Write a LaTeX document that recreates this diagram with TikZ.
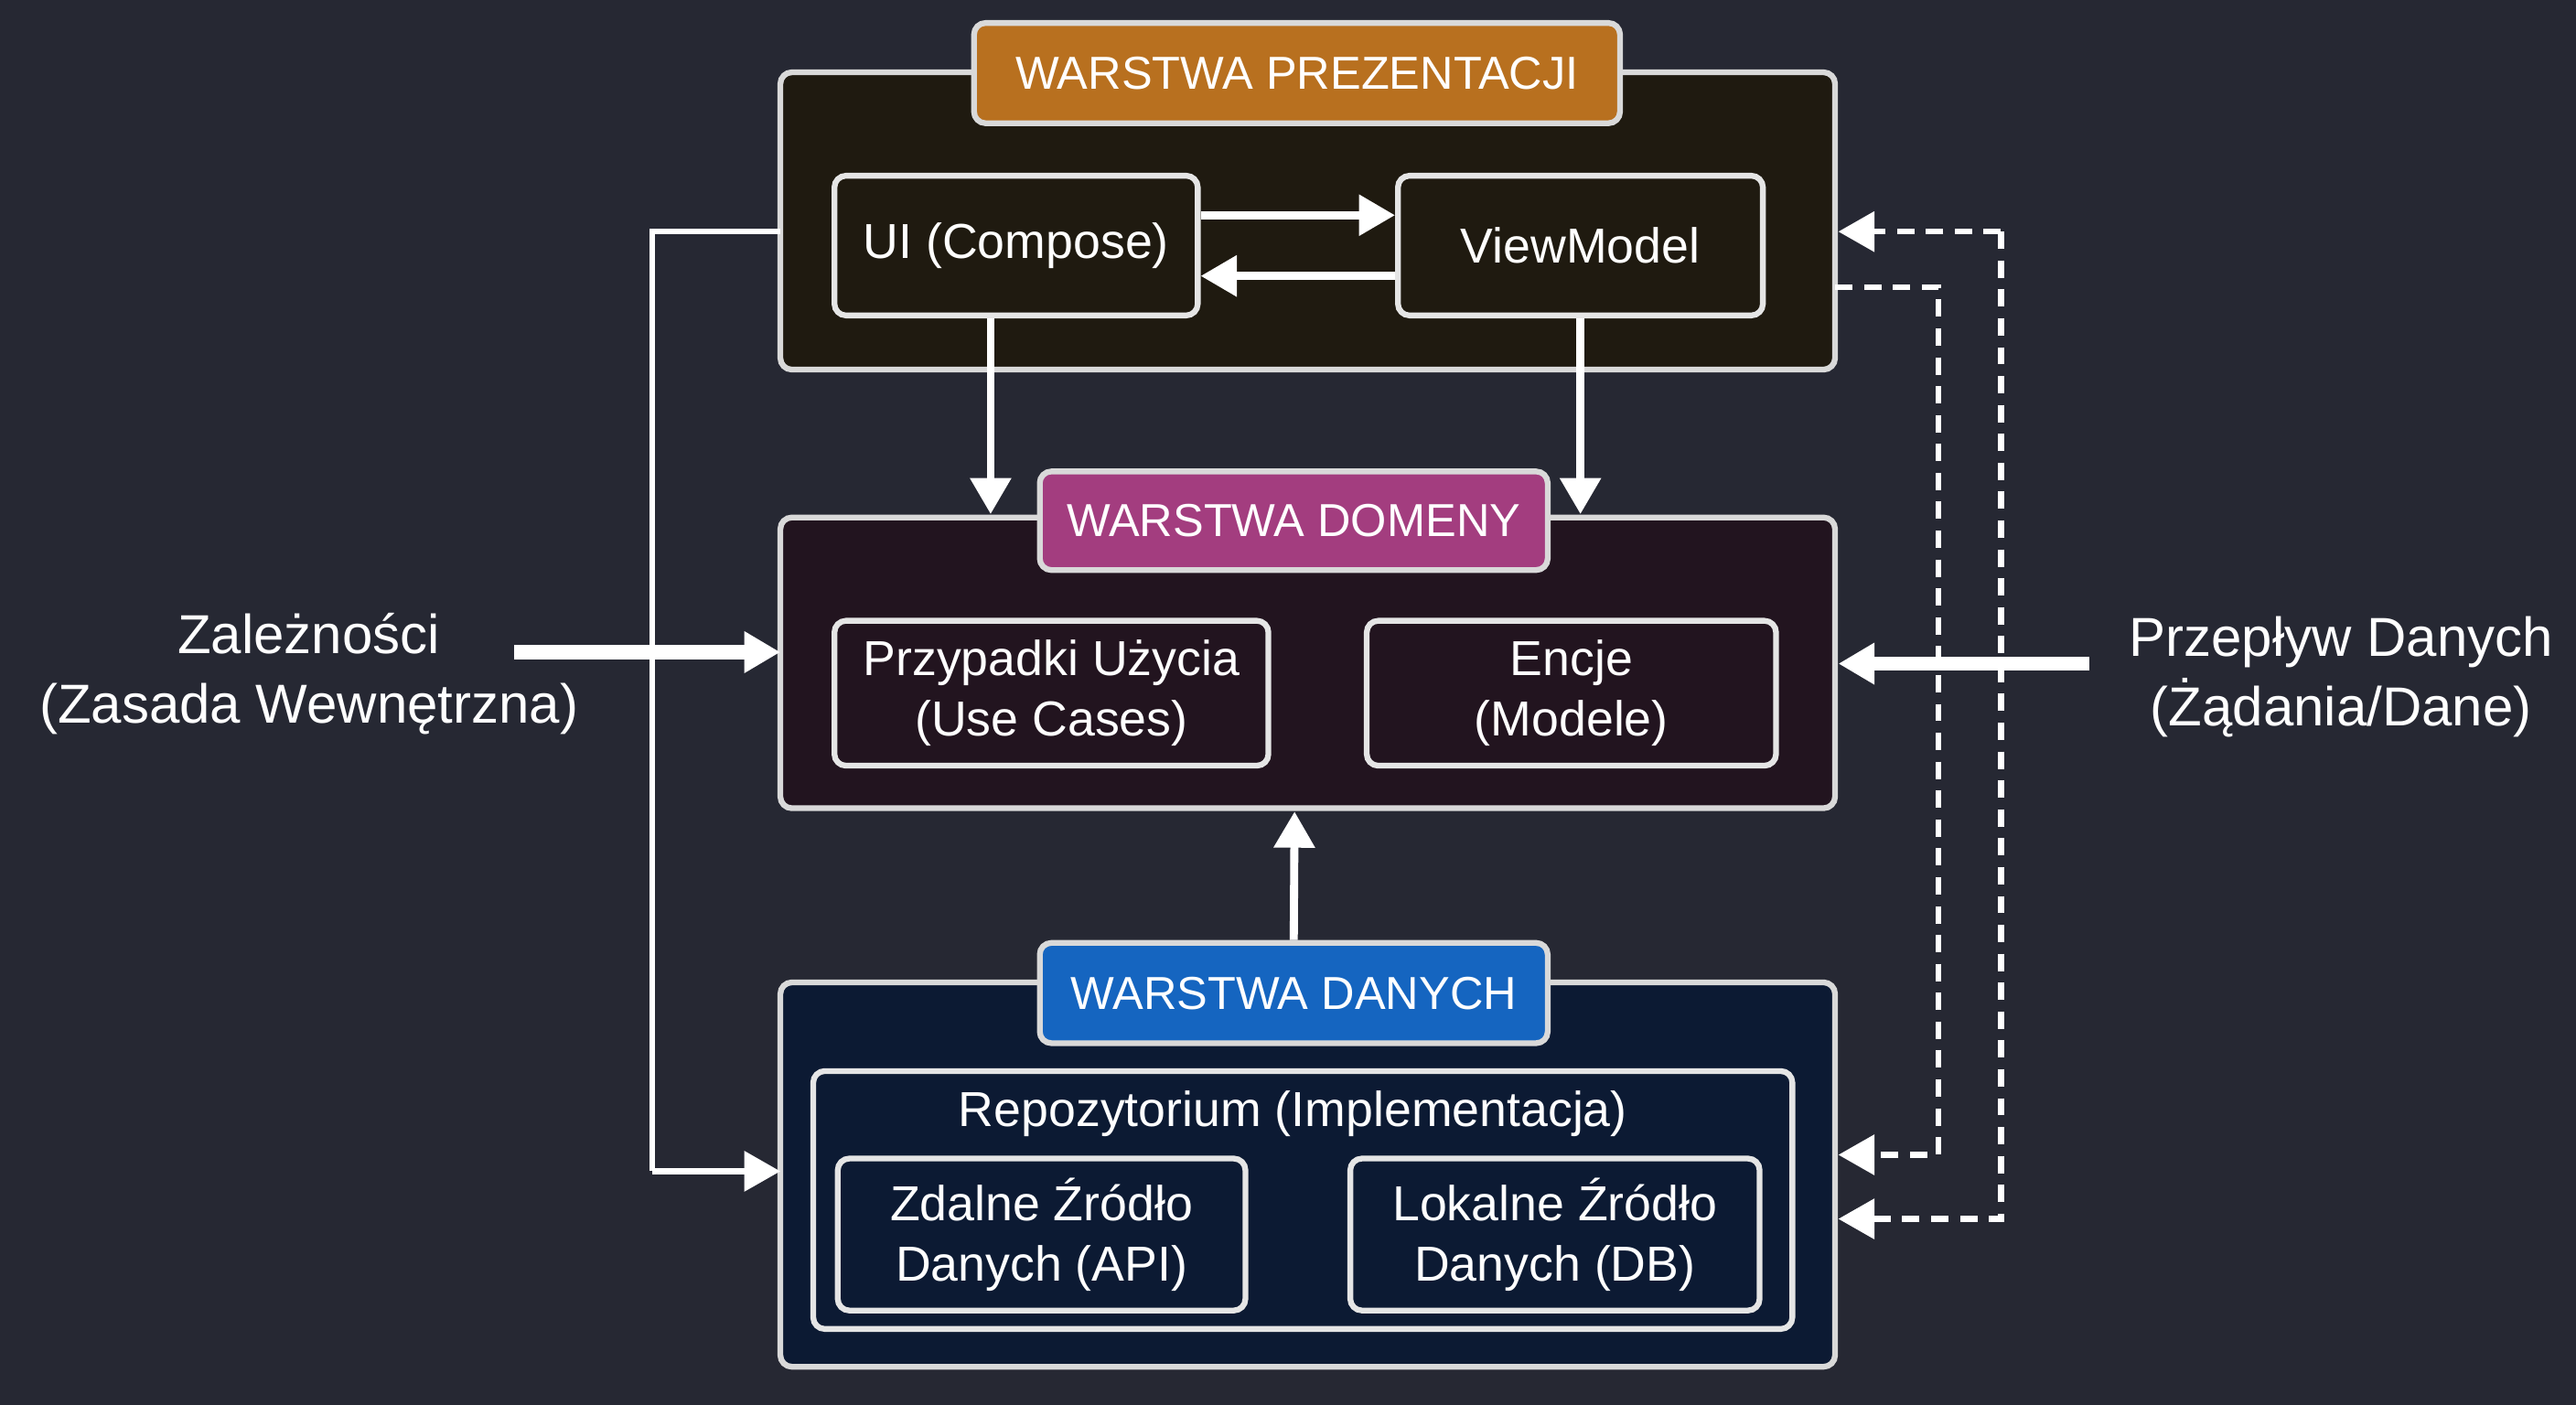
\documentclass[tikz,border=0pt]{standalone}
\usepackage{fontspec}
\setmainfont{Liberation Sans}
\usetikzlibrary{arrows.meta}
\definecolor{bgc}{HTML}{262833}
\definecolor{presfill}{HTML}{1F1A10}
\definecolor{domfill}{HTML}{22141F}
\definecolor{datfill}{HTML}{0C1A33}
\definecolor{prestitle}{HTML}{B8701F}
\definecolor{domtitle}{HTML}{A33D7F}
\definecolor{dattitle}{HTML}{1565C0}

\begin{document}
\begin{tikzpicture}[x=0.01cm, y=-0.01cm,
	layer/.style={draw=white!85!black, line width=1pt, rounded corners=2pt},
	inner/.style={draw=white!90!black, line width=1pt, rounded corners=2pt, text=white,
		align=center, font=\fontsize{8.5}{10.5}\selectfont},
	title/.style={draw=white!85!black, line width=1pt, rounded corners=2pt, text=white,
		font=\fontsize{8}{10}\selectfont},
	arr/.style={-{Triangle[length=2.2mm, width=2.4mm]}, white, line width=1.4pt},
	darr/.style={-{Triangle[length=2.2mm, width=2.4mm]}, white, line width=1pt, dash pattern=on 3pt off 2pt},
	side/.style={text=white, align=center, font=\fontsize{9.5}{12}\selectfont}]

% Background
\fill[bgc] (0,0) rectangle (1568,855);

% Layers
\newcommand{\lyr}[4]{
	\draw[layer, fill=#4] (#2) rectangle (#3);
	\coordinate (#1) at (#2);
}
\lyr {pres} {475,44}  {1117,225} {presfill}
\lyr {dom}  {475,315} {1117,492} {domfill}
\lyr {dat}  {475,598} {1117,832} {datfill}

% Titles
\newcommand{\ttl}[5]{
	\node[title, fill=#5, minimum width=#3, minimum height=#4] (#1) at (#2) {#1};
}
\node[title, fill=prestitle, minimum width=3.93cm, minimum height=0.61cm] (tpres) at (789.5,44.5) {WARSTWA PREZENTACJI};
\node[title, fill=domtitle, minimum width=3.09cm, minimum height=0.6cm] (tdom) at (787.5,317) {WARSTWA DOMENY};
\node[title, fill=dattitle, minimum width=3.09cm, minimum height=0.61cm] (tdat) at (787.5,604.5) {WARSTWA DANYCH};

% Inner boxes
\node[inner, minimum width=2.21cm, minimum height=0.85cm] (ui) at (618.5,149.5) {UI (Compose)};
\node[inner, minimum width=2.22cm, minimum height=0.85cm] (vm) at (962,149.5) {ViewModel};
\node[inner, minimum width=2.64cm, minimum height=0.86cm] (uc) at (640,422) {Przypadki Użycia\\(Use Cases)};
\node[inner, minimum width=2.49cm, minimum height=0.86cm] (ent) at (956.5,422) {Encje\\(Modele)};
\draw[inner] (495,652) rectangle (1091,809);
\node[text=white, font=\fontsize{8.5}{10.5}\selectfont] (repo) at (787,678) {Repozytorium (Implementacja)};
\node[inner, minimum width=2.48cm, minimum height=0.87cm] (api) at (634,751.5) {Zdalne Źródło\\Danych (API)};
\node[inner, minimum width=2.49cm, minimum height=0.87cm] (db) at (946.5,751.5) {Lokalne Źródło\\Danych (DB)};

% Side labels
\node[side] (dep) at (188,410) {Zależności\\(Zasada Wewnętrzna)};
\node[side] (flow) at (1425,412) {Przepływ Danych\\(Żądania/Dane)};
\coordinate (depend) at (313,397);
\coordinate (flowend) at (1272,404);

% Arrows
\draw[arr] (ui.east |- 0,131) -- (vm.west |- 0,131);
\draw[arr] (vm.west |- 0,168) -- (ui.east |- 0,168);
\draw[arr] (ui.south -| 603,0) -- (603,313);
\draw[arr] (vm.south) -- (962,313);
\draw[arr] (tdat.north) -- (788,494);
\draw[white, line width=1pt] (475,141) -- (397,141) -- (397,713);
\draw[arr, line width=1pt] (397,713) -- (475,713);
\draw[arr, line width=2.4pt] (depend) -- (475,397);
\draw[arr, line width=2.4pt] (flowend) -- (1119,404);
\draw[darr] (1218,141) -- (1119,141);
\draw[darr] (1218,141) -- (1218,742) -- (1119,742);
\draw[darr] (1117,175) -- (1180,175) -- (1180,703) -- (1119,703);
\end{tikzpicture}
\end{document}
